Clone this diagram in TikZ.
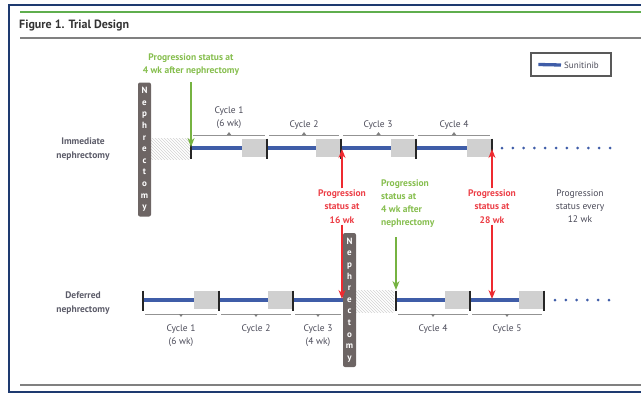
\documentclass[tikz,border=0pt]{standalone}
\usepackage{fontspec}
\setmainfont{PT Sans}
\usetikzlibrary{patterns,arrows.meta,positioning}
\definecolor{framenavy}{HTML}{1E3A70}
\definecolor{headgreen}{HTML}{5FAE4E}
\definecolor{sunblue}{HTML}{3F5DA8}
\definecolor{restgray}{HTML}{D0D0D0}
\definecolor{nephgray}{HTML}{6D6564}
\definecolor{progred}{HTML}{EE2A30}
\definecolor{progredtxt}{HTML}{EC3F47}
\definecolor{progreen}{HTML}{76B341}
\definecolor{progreentxt}{HTML}{86BE4E}
\definecolor{labgray}{HTML}{4A4A58}

\begin{document}
\begin{tikzpicture}[x=1pt,y=-1pt,
  tick/.style={line width=2.2pt, black!85},
  drug/.style={line width=3.3pt, sunblue},
  bracket/.style={gray!85, line width=0.8pt},
  cyc/.style={font=\fontsize{9.5}{13}\selectfont, text=labgray, align=center, inner sep=0pt},
  rowlab/.style={font=\fontsize{9.5}{14}\selectfont\bfseries, text=labgray!90, align=center, inner sep=0pt},
  nephbox/.style={fill=nephgray, rounded corners=2pt, text=white, align=center,
    minimum width=13, minimum height=134, inner sep=1pt,
    font=\fontsize{9}{11.6}\selectfont\bfseries},
  hatched/.style={fill=restgray!45, pattern=north west lines, pattern color=gray!35},
  redlab/.style={font=\fontsize{9.5}{13.5}\selectfont\bfseries, text=progredtxt, align=center, inner sep=1pt},
  greenlab/.style={font=\fontsize{9.5}{13}\selectfont\bfseries, text=progreentxt, inner sep=1pt},
  redarrow/.style={progred, line width=1.3pt, -{Stealth[length=9pt,width=7pt]}},
  greenarrow/.style={progreen, line width=1.3pt, -{Stealth[length=9pt,width=7pt]}}
]
\useasboundingbox (0,0) rectangle (641,394);

% frame and rules
\draw[framenavy, line width=1.3pt] (641,5) -- (9,5) -- (9,392) -- (641,392);
\draw[headgreen, line width=1.6pt] (20,12) -- (641,12);
\draw[gray, line width=1.5pt] (20,38) -- (641,38);
\draw[gray, line width=1.5pt] (20,385) -- (641,385);
\node[anchor=west, inner sep=0pt, font=\fontsize{12}{14}\selectfont\bfseries, text=black!80] (title) at (19,25) {Figure 1. Trial Design};

% legend
\node[draw=gray!70!black, line width=1.2pt, minimum width=80, minimum height=23, inner sep=0pt] (legend) at (571,64.5) {};
\node[anchor=west, inner sep=0pt, font=\fontsize{9}{10}\selectfont, text=labgray] (legtxt) at (564,65) {Sunitinib};
\draw[drug] ([xshift=8pt]legend.west) -- ([xshift=-3pt]legtxt.west);

% row labels
\node[rowlab] (immlab) at (83,149) {Immediate\\nephrectomy};
\node[rowlab] (deflab) at (83,303) {Deferred\\nephrectomy};

% immediate nephrectomy
\fill[hatched] (151,138) rectangle (190,159);
\node[nephbox] (neph1) at (144.5,149.5) {N\\e\\p\\h\\r\\e\\c\\t\\o\\m\\y};
\foreach \a/\b in {191/267, 267/341, 341/416, 416/492} {
  \draw[drug] (\a,148) -- (\b-25,148);
  \fill[restgray] (\b-25,139) rectangle (\b-1,157);
  \draw[bracket] (\a+2,135) -- (\b-2,135);
  \fill[gray] ({(\a+\b)/2-2.2},135) -- ++(2.2,-3) -- ++(2.2,3) -- cycle;
}
\foreach \x in {191,267,341,416,492}
  \draw[tick] (\x,138.5) -- (\x,158.5);
\foreach \i in {0,...,10}
  \fill[sunblue] ({502+\i*10.8},148) circle (1.5);
\node[cyc] (icyc1) at (229,118) {Cycle 1\\(6 wk)};
\node[cyc] (icyc2) at (304,125) {Cycle 2};
\node[cyc] (icyc3) at (378,125) {Cycle 3};
\node[cyc] (icyc4) at (454,125) {Cycle 4};

% deferred nephrectomy
\fill[hatched] (356,290) rectangle (394,312);
\foreach \a/\b in {143/219, 219/293, 396/470, 470/544} {
  \draw[drug] (\a,300) -- (\b-25,300);
  \fill[restgray] (\b-25,291) rectangle (\b-1,309);
  \draw[bracket] (\a+2,314) -- (\b-2,314);
  \fill[gray] ({(\a+\b)/2-2.2},314) -- ++(2.2,3) -- ++(2.2,-3) -- cycle;
}
\draw[drug] (293,300) -- (343,300);
\draw[bracket] (295,314) -- (341,314);
\fill[gray] (315.8,314) -- ++(2.2,3) -- ++(2.2,-3) -- cycle;
\foreach \x in {143,219,293,396,470,544}
  \draw[tick] (\x,290.5) -- (\x,310.5);
\foreach \i in {0,...,5}
  \fill[sunblue] ({555+\i*10.8},300) circle (1.5);
\node[nephbox] (neph2) at (349.5,300) {N\\e\\p\\h\\r\\e\\c\\t\\o\\m\\y};
\node[cyc] (dcyc1) at (181,336) {Cycle 1\\(6 wk)};
\node[cyc] (dcyc2) at (256,329) {Cycle 2};
\node[cyc] (dcyc3) at (318,336) {Cycle 3\\(4 wk)};
\node[cyc] (dcyc4) at (433,329) {Cycle 4};
\node[cyc] (dcyc5) at (507,329) {Cycle 5};

% progression assessments
\coordinate (imm4) at (191,147);
\coordinate (imm16) at (342,149);
\coordinate (imm28) at (492,149);
\coordinate (def4) at (396,290);
\coordinate (def16) at (342,299);
\coordinate (def28) at (492,299);

\node[greenlab, align=center] (green1) at (191,64.5) {Progression status at\\4 wk after nephrectomy};
\draw[greenarrow] (191,82) -- (imm4);

\node[greenlab, align=left, anchor=north west] (green2) at (380,179) {Progression\\status at\\4 wk after\\nephrectomy};
\draw[greenarrow] (396,237) -- (def4);

\node[redlab] (red16) at (342,206.5) {Progression\\status at\\16 wk};
\draw[redarrow] (red16.north) -- (imm16);
\draw[redarrow] (red16.south) -- (def16);

\node[redlab] (red28) at (492,206.5) {Progression\\status at\\28 wk};
\draw[redarrow] (red28.north) -- (imm28);
\draw[redarrow] (red28.south) -- (def28);

\node[cyc, font=\fontsize{9.5}{13}\selectfont] (every12) at (580,206) {Progression\\status every\\12 wk};
\end{tikzpicture}
\end{document}
